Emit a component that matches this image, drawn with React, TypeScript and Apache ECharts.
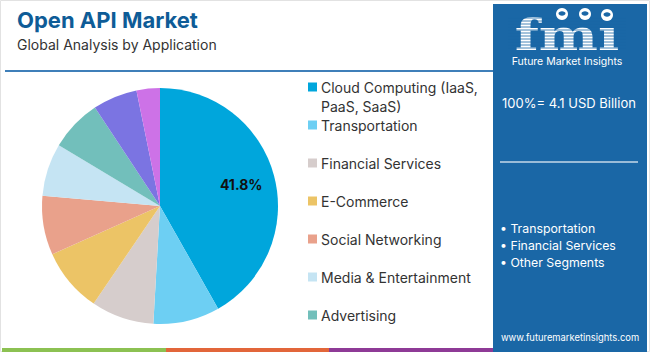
import React, { useEffect, useRef } from "react";
import * as echarts from "echarts";

const categories = [
  "Cloud Computing (IaaS, PaaS, SaaS)",
  "Transportation",
  "Financial Services",
  "E-Commerce",
  "Social Networking",
  "Media & Entertainment",
  "Advertising",
  "Healthcare",
  "Others",
];
const values = [41.8, 9.1, 8.6, 8.8, 8.1, 7.2, 7.1, 6.1, 3.2];
const colors = [
  "#00a6dc",
  "#6dcff3",
  "#d6cdcc",
  "#ecc466",
  "#e9a18b",
  "#c5e4f3",
  "#72bfbb",
  "#7b74e2",
  "#cd72e7",
];
const legendLabels = [
  "Cloud Computing (IaaS,\nPaaS, SaaS)",
  "Transportation",
  "Financial Services",
  "E-Commerce",
  "Social Networking",
  "Media & Entertainment",
  "Advertising",
];
const keySegments = ["Transportation", "Financial Services", "Other Segments"];
const totalLabel = "100%= 4.1 USD Billion";

const FONT = "Inter, 'Noto Sans', sans-serif";
const PANEL = "#1a67a6";

export default function App() {
  const ref = useRef<HTMLDivElement>(null);
  useEffect(() => {
    if (!ref.current) return;
    const chart = echarts.init(ref.current, null, { renderer: "svg" });
    const data = categories.map((name, i) => ({
      name,
      value: values[i],
      itemStyle: { color: colors[i] },
    }));

    const graphic: any[] = [];
    graphic.push({
      type: "rect",
      shape: { x: 0.5, y: 0.5, width: 649, height: 351 },
      style: { fill: "none", stroke: "#e2e2e2", lineWidth: 1 },
      silent: true,
    });
    graphic.push({
      type: "line",
      shape: { x1: 5, y1: 71, x2: 494, y2: 71 },
      style: { stroke: "#3f7fb9", lineWidth: 2 },
    });
    const strips = [
      [2, 166, "#8cc152"],
      [166, 329, "#e2663a"],
      [329, 494, "#8e3a96"],
    ];
    strips.forEach(([a, b, c]) =>
      graphic.push({
        type: "rect",
        shape: { x: a, y: 348, width: (b as number) - (a as number), height: 4 },
        style: { fill: c },
      })
    );
    legendLabels.forEach((lab, i) => {
      const cy = 87 + 38 * i;
      graphic.push({
        type: "rect",
        shape: { x: 308, y: cy - 4.5, width: 9, height: 9 },
        style: { fill: colors[i] },
      });
      graphic.push({
        type: "text",
        x: 321,
        y: cy - 9.5,
        style: {
          text: lab,
          font: `14px ${FONT}`,
          fill: "#333",
          verticalAlign: "top",
          lineHeight: 19,
        },
      });
    });
    graphic.push({
      type: "rect",
      shape: { x: 493, y: 4, width: 154, height: 348 },
      style: { fill: PANEL },
    });
    graphic.push({
      type: "text",
      x: 567,
      y: 35,
      scaleX: 1.3,
      style: {
        text: "fmı",
        font: "bold 43px 'DejaVu Serif'",
        fill: "#ffffff",
        align: "center",
        verticalAlign: "middle",
      },
    });
    for (let y = 18; y <= 50; y += 3) {
      graphic.push({
        type: "line",
        shape: { x1: 508, y1: y, x2: 626, y2: y },
        style: { stroke: PANEL, lineWidth: 0.8 },
      });
    }
    [
      [562, 14],
      [585, 14],
      [607, 15],
    ].forEach(([x, y]) => {
      graphic.push({
        type: "circle",
        shape: { cx: x, cy: y, r: 6 },
        style: { fill: "#ffffff" },
      });
      graphic.push({
        type: "ellipse",
        shape: { cx: x, cy: y - 0.5, rx: 3.5, ry: 2.2 },
        style: { fill: PANEL },
      });
    });
    graphic.push({
      type: "text",
      x: 567,
      y: 61,
      style: {
        text: "Future Market Insights",
        font: `10.5px ${FONT}`,
        fill: "#ffffff",
        align: "center",
        verticalAlign: "middle",
      },
    });
    graphic.push({
      type: "text",
      x: 502,
      y: 103,
      style: {
        text: totalLabel,
        font: `13px ${FONT}`,
        fill: "#ffffff",
        verticalAlign: "middle",
      },
    });
    graphic.push({
      type: "line",
      shape: { x1: 500, y1: 162, x2: 638, y2: 162 },
      style: { stroke: "rgba(255,255,255,0.75)", lineWidth: 1.5 },
    });
    keySegments.forEach((s, i) => {
      graphic.push({
        type: "text",
        x: 500,
        y: 228 + 17 * i,
        style: {
          text: "• " + s,
          font: `12.3px ${FONT}`,
          fill: "#ffffff",
          verticalAlign: "middle",
        },
      });
    });
    graphic.push({
      type: "text",
      x: 570,
      y: 337,
      style: {
        text: "www.futuremarketinsights.com",
        font: `9.4px ${FONT}`,
        fill: "#ffffff",
        align: "center",
        verticalAlign: "middle",
      },
    });

    chart.setOption({
      animation: false,
      title: {
        text: "Open API Market",
        subtext: "Global Analysis by Application",
        left: 12,
        top: 4,
        itemGap: 6,
        textStyle: {
          fontFamily: FONT,
          fontSize: 22,
          fontWeight: "bold",
          color: "#0e5c97",
        },
        subtextStyle: {
          fontFamily: FONT,
          fontSize: 14,
          color: "#333",
        },
      },
      graphic,
      series: [
        {
          type: "pie",
          center: [160, 206],
          radius: [0, 118],
          startAngle: 90,
          clockwise: true,
          label: { show: false },
          labelLine: { show: false },
          silent: true,
          data,
        },
        {
          type: "pie",
          center: [160, 206],
          radius: [44, 118],
          startAngle: 90,
          clockwise: true,
          silent: true,
          itemStyle: { color: "rgba(0,0,0,0)" },
          label: {
            show: true,
            position: "inside",
            fontFamily: FONT,
            fontSize: 14,
            fontWeight: "bold",
            color: "#111",
            formatter: (p: any) => (p.dataIndex === 0 ? `${p.value}%` : ""),
          },
          labelLine: { show: false },
          data: categories.map((name, i) => ({ name, value: values[i] })),
        },
      ],
    });
    return () => chart.dispose();
  }, []);
  return (
    <div
      ref={ref}
      style={{ position: "absolute", left: 0, top: 0, width: 650, height: 352 }}
    />
  );
}
